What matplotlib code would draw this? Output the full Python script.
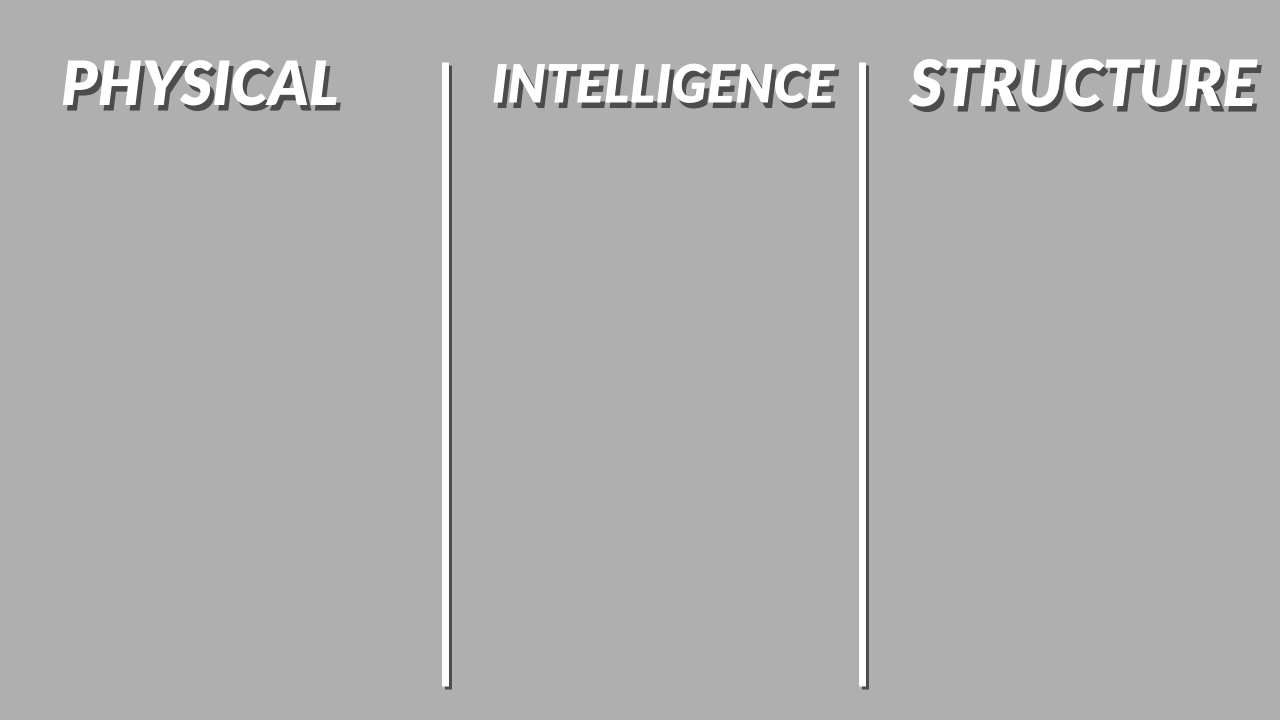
import matplotlib.pyplot as plt
import matplotlib.patheffects as pe

# column headings and divider positions (in pixels of a 1280x720 slide)
headings = ['PHYSICAL', 'INTELLIGENCE', 'STRUCTURE']
heading_x = [200, 663, 1083]
heading_size = [44, 38, 46]
divider_x = [445, 862]

fig = plt.figure(figsize=(12.8, 7.2), dpi=100)
fig.patch.set_facecolor('#afafaf')
ax = fig.add_axes([0, 0, 1, 1])
ax.set_xlim(0, 1280)
ax.set_ylim(720, 0)
ax.axis('off')

shadow = [pe.SimplePatchShadow(offset=(3, -4), shadow_rgbFace='#333333', alpha=0.8), pe.Normal()]

for t, x, s in zip(headings, heading_x, heading_size):
    ax.text(x, 87, t, ha='center', va='center', fontsize=s, color='white',
            fontfamily='Lato', fontweight='heavy', fontstyle='italic', path_effects=shadow)

for x in divider_x:
    ax.plot([x, x], [62, 686], color='white', lw=5, solid_capstyle='butt',
            path_effects=[pe.SimpleLineShadow(offset=(2, -2), shadow_color='#333333', alpha=0.8), pe.Normal()])

plt.savefig('out.png', facecolor=fig.get_facecolor())
